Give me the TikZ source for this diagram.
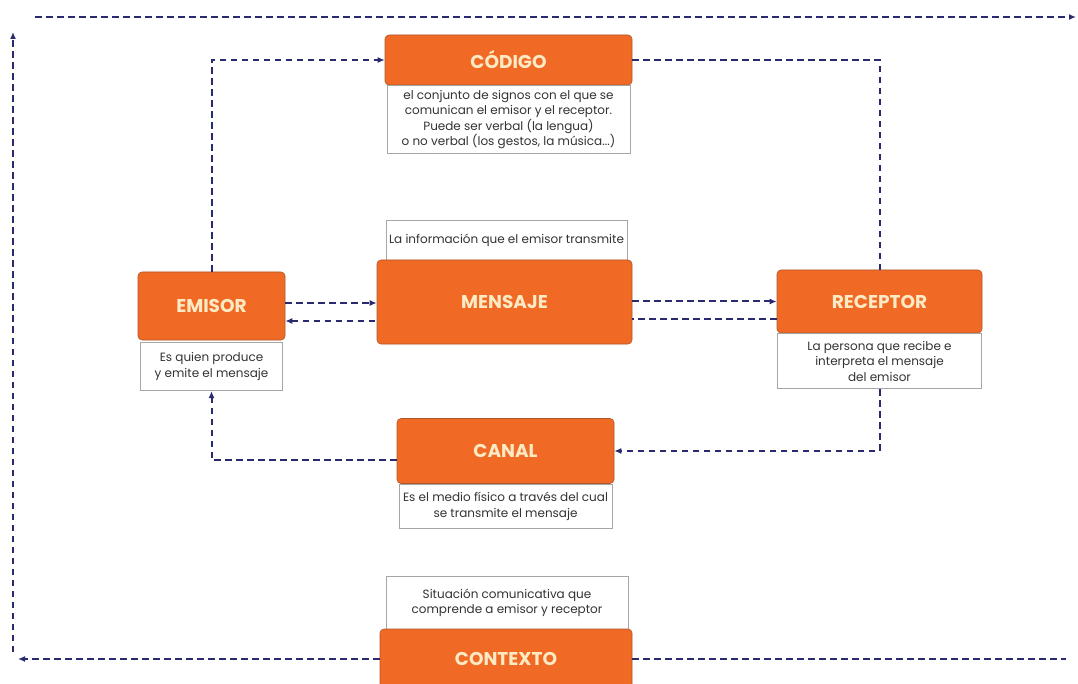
\documentclass[tikz,border=0pt]{standalone}
\usepackage{fontspec}
\setmainfont{Poppins}
\usepackage{tikz}
\usetikzlibrary{positioning,arrows.meta}
\definecolor{naranja}{RGB}{240,106,38}
\definecolor{borde}{RGB}{175,85,40}
\definecolor{crema}{RGB}{252,234,196}
\definecolor{azul}{RGB}{42,42,112}

\begin{document}
\begin{tikzpicture}[x=1pt, y=-1pt, >={Latex[length=7pt,width=6pt]},
  titulo/.style={draw=borde, line width=0.6pt, fill=naranja, rounded corners=4pt, text=crema, font=\fontsize{18.5}{20}\selectfont\bfseries, inner sep=0pt},
  nota/.style={draw=black!35, line width=0.8pt, fill=white, align=center, text=black!80, font=\fontsize{12}{15.5}\selectfont, inner sep=0pt},
  flujo/.style={draw=azul, line width=2pt, dash pattern=on 6.5pt off 4.5pt}]
  \useasboundingbox (0,0) rectangle (1078,684);
  \clip (0,0) rectangle (1078,684);

  \node[titulo, minimum width=247pt, minimum height=50pt] (codigo) at (508.5,60) {CÓDIGO};
  \node[nota, minimum width=243pt, minimum height=68pt, below=0pt of codigo] (codnota) {el conjunto de signos con el que se\\ comunican el emisor y el receptor.\\ Puede ser verbal (la lengua)\\ o no verbal (los gestos, la música...)};

  \node[nota, minimum width=241pt, minimum height=40pt] (mennota) at (506.5,240) {La información que el emisor transmite};
  \node[titulo, minimum width=255pt, minimum height=84pt] (mensaje) at (504.5,302) {MENSAJE};

  \node[titulo, minimum width=147pt, minimum height=68pt] (emisor) at (211.5,306) {EMISOR};
  \node[nota, minimum width=142pt, minimum height=48pt, below=2pt of emisor] (eminota) {Es quien produce\\ y emite el mensaje};

  \node[titulo, minimum width=205pt, minimum height=63pt] (receptor) at (879.5,301.5) {RECEPTOR};
  \node[nota, minimum width=204pt, minimum height=55pt, below=0pt of receptor] (recnota) {La persona que recibe e\\ interpreta el mensaje\\ del emisor};

  \node[titulo, minimum width=217pt, minimum height=65pt] (canal) at (505.5,451) {CANAL};
  \node[nota, minimum width=213pt, minimum height=44pt, below=0pt of canal] (cannota) {Es el medio físico a través del cual\\ se transmite el mensaje};

  \node[nota, minimum width=242pt, minimum height=53pt] (connota) at (507,603) {Situación comunicativa que\\ comprende a emisor y receptor};
  \node[titulo, minimum width=252pt, minimum height=60pt] (contexto) at (506,659) {CONTEXTO};

  \coordinate (izqfin) at (18,659);
  \coordinate (izqabajo) at (13,652);
  \coordinate (izqarriba) at (13,32);
  \coordinate (supini) at (35,17);
  \coordinate (supfin) at (1076,17);
  \coordinate (derfin) at (1066,659);

  \draw[flujo, ->] (emisor.north) |- (codigo.west);
  \draw[flujo] (codigo.east) -| (receptor.north);
  \draw[flujo, ->] ([yshift=3pt]emisor.east) -- ([yshift=3pt]emisor.east -| mensaje.west);
  \draw[flujo, <-] ([yshift=-15pt]emisor.east) -- ([yshift=-15pt]emisor.east -| mensaje.west);
  \draw[flujo, ->] (mensaje.east |- receptor.west) -- (receptor.west);
  \draw[flujo] ([yshift=-18pt]receptor.west) -- ([yshift=-18pt]receptor.west -| mensaje.east);
  \draw[flujo, ->] (recnota.south) |- (canal.east);
  \draw[flujo, ->] ([yshift=-9pt]canal.west) -| (eminota.south);
  \draw[flujo, ->] (contexto.west) -- (izqfin);
  \draw[flujo] (contexto.east) -- (derfin);
  \draw[flujo, ->] (izqabajo) -- (izqarriba);
  \draw[flujo, ->] (supini) -- (supfin);
\end{tikzpicture}
\end{document}
